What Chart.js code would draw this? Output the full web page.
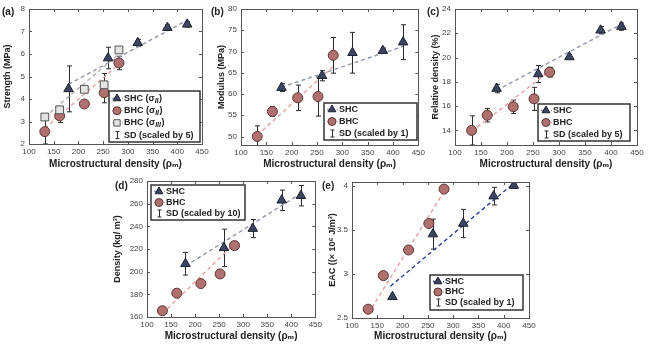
<!DOCTYPE html>
<html>
<head>
<meta charset="utf-8">
<script src="https://cdn.jsdelivr.net/npm/chart.js@4.4.0/dist/chart.umd.min.js"></script>
<style>
  body { margin: 0; background: #fff; width: 650px; height: 346px; overflow: hidden; position: relative; }
  .panel { position: absolute; }
  .tag { position: absolute; font: bold 10px "Liberation Sans", Arial, sans-serif; color: #222; }
</style>
</head>
<body>
<div class="panel" style="left:0;top:0;width:214px;height:172px"><canvas id="chartA"></canvas></div>
<div class="panel" style="left:214px;top:0;width:214px;height:172px"><canvas id="chartB"></canvas></div>
<div class="panel" style="left:428px;top:0;width:222px;height:172px"><canvas id="chartC"></canvas></div>
<div class="panel" style="left:110px;top:172px;width:215px;height:172px"><canvas id="chartD"></canvas></div>
<div class="panel" style="left:325px;top:172px;width:215px;height:172px"><canvas id="chartE"></canvas></div>
<div class="tag" style="left:2px;top:6px">(a)</div>
<div class="tag" style="left:211px;top:6px">(b)</div>
<div class="tag" style="left:427px;top:6px">(c)</div>
<div class="tag" style="left:115px;top:180px">(d)</div>
<div class="tag" style="left:322px;top:180px">(e)</div>
<script>
// shared x positions (microstructural density)
const xTicks = [100, 150, 200, 250, 300, 350, 400, 450];
const shcX = [180, 260, 320, 380, 420];
const bhcX = [132, 162, 212, 252, 282];

// (a) strength, MPa
const strengthTicks = [2, 3, 4, 5, 6, 7, 8];
const strengthShc = [4.45, 5.82, 6.5, 7.17, 7.32];
const strengthShcSd = [1.02, 0.48, 0.15, 0.12, 0.12];
const strengthBhc = [2.55, 3.25, 3.78, 4.28, 5.6];
const strengthBhcSd = [0.55, 0.3, 0.1, 0.45, 0.3];
const strengthBhc3 = [3.2, 3.52, 4.43, 4.63, 6.18];
const strengthBhc3Sd = [0.13, 0.08, 0.07, 0.5, 0.07];
const strengthShcFitX = [180, 420], strengthShcFitY = [4.65, 7.5];
const strengthBhcFitX = [132, 282], strengthBhcFitY = [2.7, 5.55];
const strengthBhc3FitX = [132, 282], strengthBhc3FitY = [3.2, 6.0];

// (b) modulus, MPa
const modulusTicks = [50, 55, 60, 65, 70, 75, 80];
const modulusShc = [61.5, 64.3, 69.7, 70.2, 72.2];
const modulusShcSd = [0.9, 1.2, 4.8, 0.6, 4.1];
const modulusBhc = [50, 55.9, 59.1, 59.4, 69.1];
const modulusBhcSd = [2.5, 1.1, 3, 4.6, 4.2];
const modulusShcFitX = [180, 420], modulusShcFitY = [61.6, 71.2];
const modulusBhcFitX = [132, 282], modulusBhcFitY = [50.3, 66.5];

// (c) relative density, %
const relTicks = [14, 16, 18, 20, 22, 24];
const relShc = [17.45, 18.65, 20.05, 22.25, 22.55];
const relShcSd = [0.35, 0.7, 0.2, 0.3, 0.3];
const relBhc = [14.0, 15.25, 15.95, 16.6, 18.8];
const relBhcSd = [1.2, 0.55, 0.55, 0.95, 0.4];
const relShcFitX = [180, 420], relShcFitY = [17.3, 22.75];
const relBhcFitX = [132, 285], relBhcFitY = [13.9, 19.0];

// (d) density, kg/m3
const densTicks = [160, 180, 200, 220, 240, 260, 280];
const densShc = [207, 221, 238, 263, 267];
const densShcSd = [10, 16.5, 8, 9, 9];
const densBhc = [165.5, 181, 189.5, 198, 223];
const densBhcSd = [1, 1, 1, 1, 1];
const densShcFitX = [180, 420], densShcFitY = [205, 269];
const densBhcFitX = [132, 285], densBhcFitY = [163, 226];

// (e) energy absorption capacity
const eacTicks = [2.5, 3, 3.5, 4];
const eacShc = [2.74, 3.45, 3.57, 3.88, 4.0];
const eacShcSd = [0.02, 0.17, 0.16, 0.1, 0.03];
const eacBhc = [2.6, 2.98, 3.27, 3.57, 3.96];
const eacBhcSd = [0.02, 0.04, 0.04, 0.02, 0.02];
const eacShcFitX = [176, 425], eacShcFitY = [2.86, 4.05];
const eacBhcFitX = [132, 284], eacBhcFitY = [2.55, 3.95];

const FONT = '"Liberation Sans", "DejaVu Sans", Arial, sans-serif';
const pts = (xs, ys) => xs.map((x, i) => ({ x, y: ys[i] }));

const SHC = { pointStyle: 'triangle', radius: 5.5, fill: '#3d4563', edge: '#1c2030' };
const BHC = { pointStyle: 'circle', radius: 5, fill: '#b07070', edge: '#5e3434' };
const SQR = { pointStyle: 'rect', radius: 5.5, fill: '#e4e4e4', edge: '#555' };

function markers(m, xs, ys, sd) {
  return {
    data: pts(xs, ys), sd,
    pointStyle: m.pointStyle, pointRadius: m.radius,
    backgroundColor: m.fill, borderColor: m.edge, borderWidth: 1
  };
}
function fitLine(xs, ys, color) {
  return {
    data: pts(xs, ys), showLine: true, pointRadius: 0,
    borderColor: color, borderWidth: 1.4, borderDash: [4, 3]
  };
}

// error bars under the markers
const errBars = {
  id: 'errBars',
  beforeDatasetsDraw(chart) {
    const { ctx, chartArea: a, scales: { x, y } } = chart;
    ctx.save();
    ctx.beginPath(); ctx.rect(a.left, a.top, a.right - a.left, a.bottom - a.top); ctx.clip();
    ctx.strokeStyle = '#2a2a2a'; ctx.lineWidth = 1;
    chart.data.datasets.forEach(ds => {
      if (!ds.sd) return;
      ds.data.forEach((p, i) => {
        const e = ds.sd[i];
        const px = Math.round(x.getPixelForValue(p.x)) + 0.5;
        const lo = y.getPixelForValue(p.y - e), hi = y.getPixelForValue(p.y + e);
        ctx.beginPath();
        ctx.moveTo(px, lo); ctx.lineTo(px, hi);
        ctx.moveTo(px - 2.5, lo); ctx.lineTo(px + 2.5, lo);
        ctx.moveTo(px - 2.5, hi); ctx.lineTo(px + 2.5, hi);
        ctx.stroke();
      });
    });
    ctx.restore();
  }
};

// box round the plot with inward ticks
const frame = {
  id: 'frame',
  afterDatasetsDraw(chart) {
    const { ctx, chartArea: a, scales: { x, y } } = chart;
    ctx.save();
    ctx.strokeStyle = '#555'; ctx.lineWidth = 1;
    ctx.strokeRect(Math.round(a.left) + 0.5, Math.round(a.top) + 0.5, Math.round(a.right - a.left), Math.round(a.bottom - a.top));
    ctx.beginPath();
    x.ticks.forEach(t => {
      const p = Math.round(x.getPixelForValue(t.value)) + 0.5;
      ctx.moveTo(p, a.bottom); ctx.lineTo(p, a.bottom - 3);
      ctx.moveTo(p, a.top); ctx.lineTo(p, a.top + 3);
    });
    y.ticks.forEach(t => {
      const p = Math.round(y.getPixelForValue(t.value)) + 0.5;
      ctx.moveTo(a.left, p); ctx.lineTo(a.left + 3, p);
      ctx.moveTo(a.right, p); ctx.lineTo(a.right - 3, p);
    });
    ctx.stroke();
    ctx.restore();
  }
};

// boxed legend inside the plot
const boxLegend = {
  id: 'boxLegend',
  afterDraw(chart, args, o) {
    if (!o.rows) return;
    const ctx = chart.ctx;
    ctx.save();
    ctx.fillStyle = '#fff';
    ctx.fillRect(o.x, o.y, o.w, o.h);
    ctx.strokeStyle = '#333'; ctx.lineWidth = 1.5;
    ctx.strokeRect(o.x, o.y, o.w, o.h);
    o.rows.forEach((r, i) => {
      const cy = o.y + o.first + i * o.step;
      const mx = o.x + 8;
      if (r.line) {
        ctx.save();
        ctx.strokeStyle = r.line; ctx.lineWidth = 1.4; ctx.setLineDash([3, 2]);
        ctx.beginPath(); ctx.moveTo(mx - 5, cy); ctx.lineTo(mx + 6, cy); ctx.stroke();
        ctx.restore();
      }
      if (r.marker === 'bar') {
        ctx.strokeStyle = '#2a2a2a'; ctx.lineWidth = 1;
        ctx.beginPath();
        ctx.moveTo(mx + 0.5, cy - 3.5); ctx.lineTo(mx + 0.5, cy + 3.5);
        ctx.moveTo(mx - 1.5, cy - 3.5); ctx.lineTo(mx + 2.5, cy - 3.5);
        ctx.moveTo(mx - 1.5, cy + 3.5); ctx.lineTo(mx + 2.5, cy + 3.5);
        ctx.stroke();
      } else {
        const m = r.marker === 'tri' ? SHC : r.marker === 'circ' ? BHC : SQR;
        ctx.fillStyle = m.fill; ctx.strokeStyle = m.edge; ctx.lineWidth = 1;
        Chart.helpers.drawPoint(ctx, { pointStyle: m.pointStyle, radius: m.radius - 1, rotation: 0, borderWidth: 1 }, mx, cy);
      }
      ctx.fillStyle = '#222';
      ctx.textBaseline = 'middle';
      ctx.font = 'bold 9px ' + FONT;
      let tx = o.x + 15;
      ctx.fillText(r.text, tx, cy);
      if (r.sub) {
        tx += ctx.measureText(r.text).width;
        ctx.font = 'italic bold 7px ' + FONT;
        ctx.fillText(r.sub, tx, cy + 2.5);
        tx += ctx.measureText(r.sub).width + 0.5;
        ctx.font = 'bold 9px ' + FONT;
        ctx.fillText(')', tx, cy);
      }
    });
    ctx.restore();
  }
};

function panel(id, c) {
  new Chart(document.getElementById(id), {
    type: 'scatter',
    data: { datasets: c.datasets },
    options: {
      responsive: true,
      maintainAspectRatio: false,
      animation: false,
      events: [],
      layout: { padding: { top: c.padTop, right: c.padRight, left: 0, bottom: 0 } },
      plugins: { legend: { display: false }, tooltip: { enabled: false }, boxLegend: c.legend },
      scales: {
        x: {
          type: 'linear', min: 100, max: 450,
          afterBuildTicks: s => { s.ticks = xTicks.map(v => ({ value: v })); },
          afterFit: s => { s.height = c.xH; },
          grid: { display: false, drawTicks: false }, border: { display: false },
          ticks: { color: '#444', font: { size: 8, family: FONT }, padding: 3, maxRotation: 0, callback: v => String(v) },
          title: { display: true, text: 'Microstructural density (ρₘ)', color: '#222', font: { size: 10, weight: 'bold', family: FONT }, padding: { top: 1, bottom: 2 } }
        },
        y: {
          type: 'linear', min: c.yMin, max: c.yMax,
          afterBuildTicks: s => { s.ticks = c.yTicks.map(v => ({ value: v })); },
          afterFit: s => { s.width = c.yW; },
          grid: { display: false, drawTicks: false }, border: { display: false },
          ticks: { color: '#444', font: { size: 8, family: FONT }, padding: 4, callback: v => String(v) },
          title: { display: true, text: c.yTitle, color: '#222', font: { size: 9, weight: 'bold', family: FONT }, padding: { top: 2, bottom: 2 } }
        }
      }
    },
    plugins: [errBars, frame, boxLegend]
  });
}

const shcLine = '#9098ae', bhcLine = '#e6a0a0', sqLine = '#b4b4b4';

panel('chartA', {
  yMin: 2, yMax: 8, yTicks: strengthTicks, yTitle: 'Strength (MPa)',
  yW: 29, xH: 28, padTop: 9, padRight: 12,
  datasets: [
    markers(SHC, shcX, strengthShc, strengthShcSd),
    markers(SQR, bhcX, strengthBhc3, strengthBhc3Sd),
    markers(BHC, bhcX, strengthBhc, strengthBhcSd),
    fitLine(strengthShcFitX, strengthShcFitY, shcLine),
    fitLine(strengthBhcFitX, strengthBhcFitY, bhcLine),
    fitLine(strengthBhc3FitX, strengthBhc3FitY, sqLine)
  ],
  legend: { x: 109, y: 91, w: 91, h: 51, first: 7.5, step: 12.2, rows: [
    { marker: 'tri', line: shcLine, text: 'SHC (σ', sub: 'II' },
    { marker: 'circ', line: bhcLine, text: 'BHC (σ', sub: 'II' },
    { marker: 'sq', line: sqLine, text: 'BHC (σ', sub: 'III' },
    { marker: 'bar', text: 'SD (scaled by 5)' }
  ] }
});

panel('chartB', {
  yMin: 48, yMax: 80, yTicks: modulusTicks, yTitle: 'Modulus (MPa)',
  yW: 27, xH: 27, padTop: 9, padRight: 8,
  datasets: [
    markers(SHC, shcX, modulusShc, modulusShcSd),
    markers(BHC, bhcX, modulusBhc, modulusBhcSd),
    fitLine(modulusShcFitX, modulusShcFitY, shcLine),
    fitLine(modulusBhcFitX, modulusBhcFitY, bhcLine)
  ],
  legend: { x: 110, y: 103, w: 93, h: 37, first: 6.5, step: 12, rows: [
    { marker: 'tri', line: shcLine, text: 'SHC' },
    { marker: 'circ', line: bhcLine, text: 'BHC' },
    { marker: 'bar', text: 'SD (scaled by 1)' }
  ] }
});

panel('chartC', {
  yMin: 12.8, yMax: 24, yTicks: relTicks, yTitle: 'Relative density (%)',
  yW: 27, xH: 27, padTop: 9, padRight: 13,
  datasets: [
    markers(SHC, shcX, relShc, relShcSd),
    markers(BHC, bhcX, relBhc, relBhcSd),
    fitLine(relShcFitX, relShcFitY, shcLine),
    fitLine(relBhcFitX, relBhcFitY, bhcLine)
  ],
  legend: { x: 110, y: 104, w: 92, h: 37, first: 6.5, step: 12, rows: [
    { marker: 'tri', line: shcLine, text: 'SHC' },
    { marker: 'circ', line: bhcLine, text: 'BHC' },
    { marker: 'bar', text: 'SD (scaled by 5)' }
  ] }
});

panel('chartD', {
  yMin: 160, yMax: 280, yTicks: densTicks, yTitle: 'Density (kg/ m³)',
  yW: 37, xH: 27, padTop: 9, padRight: 5,
  datasets: [
    markers(SHC, shcX, densShc, densShcSd),
    markers(BHC, bhcX, densBhc, densBhcSd),
    fitLine(densShcFitX, densShcFitY, shcLine),
    fitLine(densBhcFitX, densBhcFitY, bhcLine)
  ],
  legend: { x: 41, y: 13, w: 94, h: 35, first: 6.5, step: 11, rows: [
    { marker: 'tri', line: shcLine, text: 'SHC' },
    { marker: 'circ', line: bhcLine, text: 'BHC' },
    { marker: 'bar', text: 'SD (scaled by 10)' }
  ] }
});

panel('chartE', {
  yMin: 2.5, yMax: 4.04, yTicks: eacTicks, yTitle: 'EAC ((× 10⁶ J/m³)',
  yW: 27, xH: 26, padTop: 10, padRight: 11,
  datasets: [
    markers(SHC, shcX, eacShc, eacShcSd),
    markers(BHC, bhcX, eacBhc, eacBhcSd),
    fitLine(eacShcFitX, eacShcFitY, '#2f3f8f'),
    fitLine(eacBhcFitX, eacBhcFitY, bhcLine)
  ],
  legend: { x: 105, y: 103, w: 93, h: 35, first: 6.5, step: 10.5, rows: [
    { marker: 'tri', line: '#2f3f8f', text: 'SHC' },
    { marker: 'circ', line: bhcLine, text: 'BHC' },
    { marker: 'bar', text: 'SD (scaled by 1)' }
  ] }
});
</script>
</body>
</html>
